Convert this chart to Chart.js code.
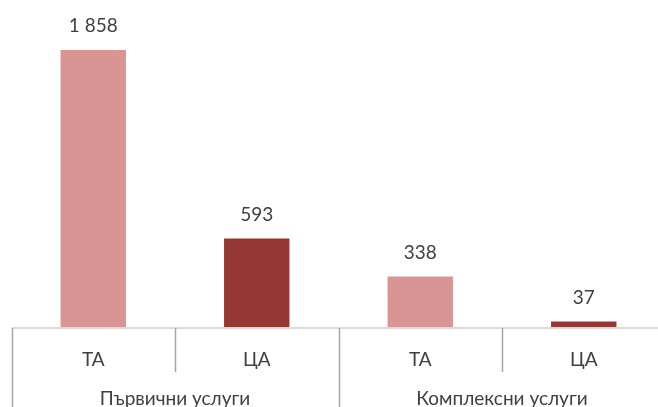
<!DOCTYPE html>
<html>
<head>
<meta charset="utf-8">
<script src="https://cdn.jsdelivr.net/npm/chart.js@4"></script>
<style>
  html, body { margin: 0; padding: 0; background: #fff; overflow: hidden; }
  #wrap { width: 672px; height: 415px; position: relative; }
</style>
</head>
<body>
<div id="wrap"><canvas id="c"></canvas></div>
<script>
const categories = ['ТА', 'ЦА', 'ТА', 'ЦА'];
const groups = ['Първични услуги', 'Комплексни услуги'];
const values = [1858, 593, 338, 37];
const barColors = ['#D99594', '#953735', '#D99594', '#953735'];

const FONT = 'Lato, "Open Sans", sans-serif';
const TEXT = '#404040';

function fmt(v) {
  return String(v).replace(/\B(?=(\d{3})+(?!\d))/g, ' ');
}

const decor = {
  id: 'decor',
  afterDatasetsDraw(chart) {
    const ctx = chart.ctx;
    const xs = chart.scales.x;
    const area = chart.chartArea;
    const meta = chart.getDatasetMeta(0);
    ctx.save();
    // value labels
    ctx.font = '19px ' + FONT;
    ctx.fillStyle = TEXT;
    ctx.textAlign = 'center';
    ctx.textBaseline = 'middle';
    meta.data.forEach((bar, i) => {
      ctx.fillText(fmt(values[i]), bar.x, bar.y - 24);
    });
    // axis line
    ctx.strokeStyle = '#D9D9D9';
    ctx.lineWidth = 2;
    ctx.beginPath();
    ctx.moveTo(area.left, area.bottom + 1);
    ctx.lineTo(area.right, area.bottom + 1);
    ctx.stroke();
    // separators
    const n = categories.length;
    const w = (xs.right - xs.left) / n;
    ctx.strokeStyle = '#A6A6A6';
    ctx.lineWidth = 1.5;
    for (let i = 0; i <= n; i++) {
      const x = Math.round(xs.left + i * w) + 0.5;
      const long = (i % 2 === 0);
      ctx.beginPath();
      ctx.moveTo(x, area.bottom + 1);
      ctx.lineTo(x, long ? chart.height : area.bottom + 45);
      ctx.stroke();
    }
    // group labels
    ctx.font = '19px ' + FONT;
    ctx.fillStyle = TEXT;
    ctx.textAlign = 'center';
    ctx.textBaseline = 'middle';
    groups.forEach((g, k) => {
      const cx = xs.left + (k * 2 + 1) * w;
      ctx.fillText(g, cx, area.bottom + 72);
    });
    ctx.restore();
  }
};

new Chart(document.getElementById('c'), {
  type: 'bar',
  data: {
    labels: categories,
    datasets: [{
      data: values,
      backgroundColor: barColors,
      borderWidth: 0,
      categoryPercentage: 1,
      barPercentage: 0.4
    }]
  },
  options: {
    responsive: true,
    maintainAspectRatio: false,
    animation: false,
    layout: { padding: { left: 11.5, right: 6.5, top: 28.8, bottom: 0 } },
    plugins: { legend: { display: false }, tooltip: { enabled: false } },
    scales: {
      y: {
        display: false,
        min: 0,
        max: 2000
      },
      x: {
        grid: { display: false },
        border: { display: false },
        ticks: {
          color: TEXT,
          font: { family: FONT, size: 19 },
          padding: 13
        },
        afterFit(scale) { scale.height = 415 - 327; }
      }
    }
  },
  plugins: [decor]
});
</script>
</body>
</html>
